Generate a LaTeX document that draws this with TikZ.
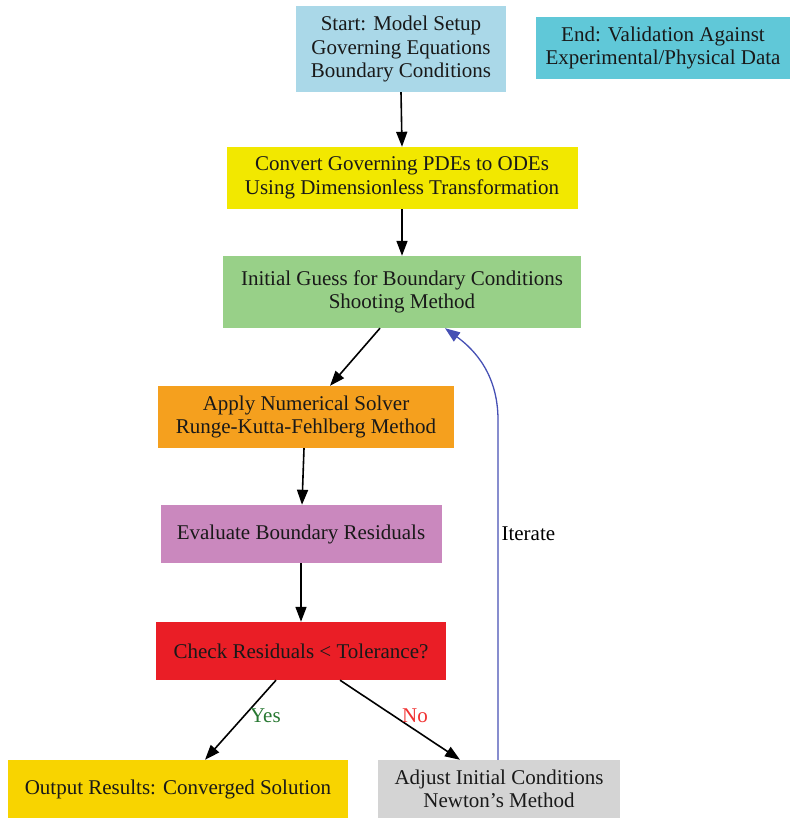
\documentclass[tikz,border=0pt]{standalone}
\usepackage{fontspec}
\setmainfont{Liberation Serif}
\usetikzlibrary{arrows.meta}
\definecolor{cStart}{RGB}{170,216,232}
\definecolor{cEnd}{RGB}{96,200,216}
\definecolor{cConv}{RGB}{242,232,0}
\definecolor{cInit}{RGB}{152,208,136}
\definecolor{cApply}{RGB}{245,160,30}
\definecolor{cEval}{RGB}{202,136,190}
\definecolor{cCheck}{RGB}{234,30,38}
\definecolor{cOut}{RGB}{248,212,0}
\definecolor{cAdj}{RGB}{212,212,212}
\definecolor{cYes}{RGB}{40,120,50}
\definecolor{cNo}{RGB}{240,50,50}
\definecolor{cIter}{RGB}{70,80,180}
\begin{document}
\begin{tikzpicture}[x=1pt,y=-1pt,
  box/.style={rectangle, inner sep=0pt, align=center, text=black!90,
    font=\fontsize{21}{23.5}\selectfont},
  arr/.style={-{Triangle[length=15pt,width=11pt]}, line width=1.6pt, black},
  lbl/.style={font=\fontsize{21}{23.5}\selectfont}]
\useasboundingbox (0,0) rectangle (793,818);
\node[box, fill=cStart, minimum width=210pt, minimum height=86pt] (start) at (401,49)
  {Start: Model Setup\\Governing Equations\\Boundary Conditions};
\node[box, fill=cEnd, minimum width=254pt, minimum height=62pt] (end) at (663,48)
  {End: Validation Against\\Experimental/Physical Data};
\node[box, fill=cConv, minimum width=351pt, minimum height=62pt] (conv) at (402,178)
  {Convert Governing PDEs to ODEs\\Using Dimensionless Transformation};
\node[box, fill=cInit, minimum width=358pt, minimum height=72pt] (init) at (402,292)
  {Initial Guess for Boundary Conditions\\Shooting Method};
\node[box, fill=cApply, minimum width=296pt, minimum height=62pt] (apply) at (306,417)
  {Apply Numerical Solver\\Runge-Kutta-Fehlberg Method};
\node[box, fill=cEval, minimum width=281pt, minimum height=58pt] (eval) at (301,534)
  {Evaluate Boundary Residuals};
\node[box, fill=cCheck, minimum width=290pt, minimum height=58pt] (check) at (301,651)
  {Check Residuals < Tolerance?};
\node[box, fill=cOut, minimum width=340pt, minimum height=58pt] (out) at (178,789)
  {Output Results: Converged Solution};
\node[box, fill=cAdj, minimum width=242pt, minimum height=58pt] (adj) at (499,789)
  {Adjust Initial Conditions\\Newton’s Method};

\draw[arr] (start.south) -- (conv.north);
\draw[arr] (conv.south) -- (init.north);
\draw[arr] (init.south -| 380,0) -- (apply.north -| 330,0);
\draw[arr] (apply.south -| 304,0) -- (eval.north -| 302,0);
\draw[arr] (eval.south) -- (check.north);
\draw[arr] (check.south -| 276,0) -- node[lbl, text=cYes, right, pos=0.45, xshift=2pt] (yes) {Yes} (out.north -| 205,0);
\draw[arr] (check.south -| 340,0) -- node[lbl, text=cNo, right, pos=0.45, xshift=4pt] (no) {No} (adj.north -| 460,0);
\draw[-{Triangle[length=15pt,width=11pt]}, line width=1.3pt, cIter]
  (adj.north -| 498,0) -- (498,420) .. controls (498,375) and (475,350) .. (init.south -| 445,0);
\node[lbl, anchor=west] (iterate) at (498,534) {Iterate};
\end{tikzpicture}
\end{document}
